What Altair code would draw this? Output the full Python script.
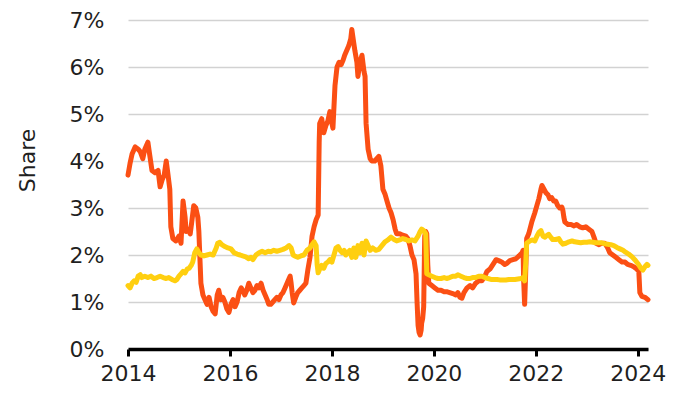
import altair as alt
import pandas as pd

# Decimal-year time points and shares (%)
orange_year = [
    2014.00, 2014.04, 2014.08, 2014.14, 2014.20, 2014.24, 2014.29, 2014.33, 2014.39, 2014.43,
    2014.47, 2014.53, 2014.59, 2014.63, 2014.67, 2014.71, 2014.75, 2014.78, 2014.82, 2014.84,
    2014.88, 2014.94, 2015.00, 2015.04, 2015.08, 2015.12, 2015.14, 2015.18, 2015.22, 2015.25,
    2015.29, 2015.33, 2015.37, 2015.39, 2015.43, 2015.47, 2015.51, 2015.55, 2015.59, 2015.63,
    2015.67, 2015.71, 2015.75, 2015.78, 2015.82, 2015.86, 2015.90, 2015.94, 2015.98, 2016.02,
    2016.06, 2016.10, 2016.14, 2016.18, 2016.22, 2016.25, 2016.29, 2016.33, 2016.37, 2016.41,
    2016.45, 2016.49, 2016.53, 2016.57, 2016.61, 2016.65, 2016.69, 2016.73, 2016.76, 2016.80,
    2016.84, 2016.88, 2016.92, 2016.96, 2017.00, 2017.04, 2017.08, 2017.12, 2017.16, 2017.18,
    2017.20, 2017.22, 2017.25, 2017.29, 2017.33, 2017.37, 2017.41, 2017.45, 2017.49, 2017.53,
    2017.57, 2017.61, 2017.65, 2017.69, 2017.73, 2017.75, 2017.76, 2017.80, 2017.84, 2017.88,
    2017.92, 2017.96, 2018.00, 2018.02, 2018.06, 2018.10, 2018.14, 2018.18, 2018.22, 2018.25,
    2018.29, 2018.33, 2018.37, 2018.39, 2018.43, 2018.45, 2018.49, 2018.51, 2018.55, 2018.59,
    2018.63, 2018.65, 2018.67, 2018.71, 2018.75, 2018.78, 2018.84, 2018.88, 2018.92, 2018.96,
    2019.00, 2019.04, 2019.08, 2019.12, 2019.16, 2019.20, 2019.24, 2019.27, 2019.33, 2019.39,
    2019.45, 2019.49, 2019.53, 2019.57, 2019.61, 2019.65, 2019.67, 2019.69, 2019.71, 2019.73,
    2019.75, 2019.76, 2019.78, 2019.80, 2019.82, 2019.84, 2019.86, 2019.88, 2019.90, 2019.96,
    2020.02, 2020.08, 2020.14, 2020.20, 2020.25, 2020.31, 2020.37, 2020.43, 2020.47, 2020.51,
    2020.55, 2020.59, 2020.65, 2020.71, 2020.76, 2020.82, 2020.88, 2020.94, 2021.00, 2021.04,
    2021.10, 2021.16, 2021.22, 2021.27, 2021.33, 2021.39, 2021.43, 2021.49, 2021.55, 2021.61,
    2021.67, 2021.73, 2021.75, 2021.76, 2021.78, 2021.80, 2021.82, 2021.86, 2021.92, 2021.98,
    2022.02, 2022.06, 2022.10, 2022.12, 2022.16, 2022.20, 2022.24, 2022.27, 2022.31, 2022.35,
    2022.39, 2022.43, 2022.47, 2022.51, 2022.53, 2022.55, 2022.57, 2022.63, 2022.69, 2022.75,
    2022.80, 2022.86, 2022.92, 2022.98, 2023.04, 2023.10, 2023.14, 2023.18, 2023.24, 2023.29,
    2023.35, 2023.41, 2023.45, 2023.51, 2023.57, 2023.63, 2023.69, 2023.75, 2023.80, 2023.86,
    2023.92, 2023.98, 2024.02, 2024.04, 2024.08, 2024.14, 2024.20,
]
orange_share = [
    3.70, 3.95, 4.15, 4.30, 4.25, 4.20, 4.05, 4.25, 4.40, 4.10,
    3.80, 3.75, 3.80, 3.45, 3.60, 3.70, 4.00, 3.75, 3.40, 2.60,
    2.35, 2.30, 2.40, 2.25, 3.15, 2.80, 2.50, 2.55, 2.45, 2.70,
    3.05, 3.00, 2.80, 2.50, 1.40, 1.15, 1.05, 0.95, 1.10, 0.90,
    0.80, 0.75, 1.15, 1.25, 1.05, 1.10, 1.00, 0.85, 0.78, 0.95,
    1.05, 0.90, 1.00, 1.20, 1.30, 1.25, 1.15, 1.25, 1.40, 1.30,
    1.20, 1.25, 1.35, 1.30, 1.40, 1.25, 1.15, 1.05, 0.95, 0.95,
    1.00, 1.05, 1.10, 1.05, 1.15, 1.20, 1.30, 1.40, 1.50, 1.55,
    1.40, 1.20, 0.98, 1.10, 1.20, 1.25, 1.30, 1.35, 1.40, 1.70,
    1.95, 2.40, 2.60, 2.75, 2.85, 4.40, 4.80, 4.90, 4.60, 4.75,
    4.85, 5.05, 4.80, 4.70, 5.60, 6.00, 6.10, 6.05, 6.15, 6.25,
    6.35, 6.45, 6.60, 6.80, 6.50, 6.35, 6.10, 5.80, 6.10, 6.25,
    5.90, 5.80, 4.80, 4.25, 4.05, 4.00, 4.00, 4.05, 4.10, 3.90,
    3.40, 3.30, 3.15, 3.00, 2.90, 2.75, 2.55, 2.45, 2.45, 2.42,
    2.40, 2.35, 2.20, 2.00, 1.90, 1.60, 1.00, 0.50, 0.35, 0.30,
    0.40, 0.55, 0.65, 0.90, 2.40, 2.50, 2.45, 1.80, 1.40, 1.35,
    1.30, 1.25, 1.25, 1.22, 1.22, 1.20, 1.18, 1.15, 1.20, 1.10,
    1.08, 1.20, 1.30, 1.35, 1.30, 1.40, 1.45, 1.45, 1.55, 1.65,
    1.70, 1.80, 1.90, 1.88, 1.85, 1.80, 1.82, 1.88, 1.90, 1.92,
    1.98, 2.05, 2.10, 1.50, 0.95, 1.60, 2.35, 2.45, 2.70, 2.90,
    3.05, 3.20, 3.40, 3.48, 3.40, 3.32, 3.28, 3.20, 3.22, 3.15,
    3.15, 3.05, 3.00, 3.02, 2.95, 2.80, 2.70, 2.65, 2.65, 2.62,
    2.65, 2.60, 2.58, 2.60, 2.55, 2.50, 2.38, 2.25, 2.22, 2.25,
    2.25, 2.15, 2.05, 2.00, 1.95, 1.90, 1.85, 1.85, 1.80, 1.78,
    1.75, 1.70, 1.65, 1.20, 1.12, 1.10, 1.05,
]

yellow_year = [
    2014.00, 2014.04, 2014.08, 2014.12, 2014.16, 2014.20, 2014.24, 2014.27, 2014.33, 2014.39,
    2014.45, 2014.51, 2014.57, 2014.63, 2014.69, 2014.75, 2014.80, 2014.86, 2014.92, 2014.96,
    2015.00, 2015.04, 2015.08, 2015.12, 2015.16, 2015.20, 2015.24, 2015.27, 2015.31, 2015.35,
    2015.39, 2015.43, 2015.49, 2015.55, 2015.61, 2015.67, 2015.73, 2015.76, 2015.80, 2015.84,
    2015.90, 2015.96, 2016.02, 2016.08, 2016.14, 2016.20, 2016.25, 2016.31, 2016.37, 2016.41,
    2016.45, 2016.51, 2016.57, 2016.63, 2016.69, 2016.75, 2016.80, 2016.86, 2016.92, 2016.98,
    2017.04, 2017.10, 2017.16, 2017.20, 2017.24, 2017.27, 2017.33, 2017.39, 2017.45, 2017.51,
    2017.57, 2017.61, 2017.65, 2017.69, 2017.71, 2017.73, 2017.76, 2017.80, 2017.84, 2017.88,
    2017.92, 2017.96, 2018.00, 2018.04, 2018.08, 2018.12, 2018.16, 2018.20, 2018.24, 2018.27,
    2018.31, 2018.35, 2018.39, 2018.43, 2018.47, 2018.51, 2018.55, 2018.59, 2018.63, 2018.67,
    2018.71, 2018.75, 2018.80, 2018.86, 2018.92, 2018.98, 2019.04, 2019.10, 2019.16, 2019.22,
    2019.27, 2019.33, 2019.39, 2019.45, 2019.51, 2019.57, 2019.63, 2019.69, 2019.73, 2019.76,
    2019.80, 2019.84, 2019.86, 2019.90, 2019.96, 2020.02, 2020.08, 2020.14, 2020.20, 2020.25,
    2020.31, 2020.37, 2020.43, 2020.47, 2020.53, 2020.59, 2020.65, 2020.71, 2020.76, 2020.82,
    2020.88, 2020.94, 2021.00, 2021.06, 2021.12, 2021.18, 2021.24, 2021.29, 2021.35, 2021.41,
    2021.47, 2021.53, 2021.59, 2021.65, 2021.71, 2021.75, 2021.78, 2021.80, 2021.82, 2021.88,
    2021.94, 2021.98, 2022.02, 2022.06, 2022.10, 2022.14, 2022.18, 2022.22, 2022.25, 2022.29,
    2022.33, 2022.39, 2022.45, 2022.49, 2022.53, 2022.59, 2022.65, 2022.71, 2022.76, 2022.82,
    2022.88, 2022.94, 2023.00, 2023.06, 2023.12, 2023.18, 2023.24, 2023.29, 2023.35, 2023.41,
    2023.47, 2023.53, 2023.59, 2023.65, 2023.71, 2023.76, 2023.82, 2023.88, 2023.94, 2024.00,
    2024.06, 2024.10, 2024.14, 2024.18, 2024.20,
]
yellow_share = [
    1.35, 1.30, 1.40, 1.45, 1.42, 1.55, 1.58, 1.52, 1.55, 1.52,
    1.55, 1.50, 1.52, 1.55, 1.52, 1.50, 1.52, 1.48, 1.45, 1.48,
    1.55, 1.60, 1.65, 1.62, 1.70, 1.72, 1.78, 1.85, 2.05, 2.13,
    2.05, 2.00, 1.98, 2.00, 2.02, 2.00, 2.15, 2.25, 2.27, 2.22,
    2.18, 2.15, 2.13, 2.05, 2.02, 2.00, 1.98, 1.96, 1.92, 1.95,
    1.90, 2.00, 2.05, 2.08, 2.05, 2.08, 2.07, 2.10, 2.08, 2.10,
    2.12, 2.15, 2.20, 2.15, 2.00, 1.98, 1.95, 1.98, 2.00, 2.10,
    2.15, 2.22, 2.28, 2.20, 1.80, 1.62, 1.70, 1.78, 1.72, 1.82,
    1.85, 1.90, 1.85, 2.00, 2.15, 2.18, 2.10, 2.05, 2.10, 2.00,
    2.05, 2.10, 1.95, 2.15, 1.95, 2.20, 2.05, 2.25, 2.00, 2.30,
    2.20, 2.10, 2.15, 2.10, 2.12, 2.20, 2.28, 2.32, 2.38, 2.33,
    2.30, 2.32, 2.35, 2.33, 2.30, 2.32, 2.30, 2.40, 2.50, 2.55,
    2.52, 2.45, 1.60, 1.58, 1.55, 1.52, 1.50, 1.50, 1.52, 1.50,
    1.52, 1.55, 1.55, 1.58, 1.55, 1.52, 1.50, 1.50, 1.52, 1.52,
    1.55, 1.55, 1.52, 1.50, 1.48, 1.48, 1.48, 1.47, 1.47, 1.47,
    1.48, 1.48, 1.48, 1.49, 1.50, 1.52, 1.45, 1.80, 2.25, 2.30,
    2.32, 2.30, 2.40, 2.48, 2.52, 2.40, 2.38, 2.42, 2.44, 2.38,
    2.33, 2.33, 2.35, 2.28, 2.23, 2.25, 2.28, 2.30, 2.28, 2.27,
    2.26, 2.27, 2.27, 2.28, 2.27, 2.26, 2.26, 2.26, 2.24, 2.23,
    2.22, 2.20, 2.16, 2.13, 2.10, 2.06, 2.02, 1.97, 1.90, 1.82,
    1.72, 1.68, 1.75, 1.80, 1.78,
]

year_ticks = [2014, 2016, 2018, 2020, 2022, 2024]
share_ticks = [0, 1, 2, 3, 4, 5, 6, 7]

orange_df = pd.DataFrame({"year": orange_year, "share": orange_share})
yellow_df = pd.DataFrame({"year": yellow_year, "share": yellow_share})

FONT = "DejaVu Sans"
TXT = "#1f1f1f"

x_enc = alt.X(
    "year:Q",
    scale=alt.Scale(domain=[2014, 2024.2], nice=False, zero=False),
    axis=alt.Axis(
        values=year_ticks, format="d", title=None, grid=False,
        domainColor="black", domainWidth=3.5, tickColor="black", tickWidth=3,
        tickSize=7, labelFont=FONT, labelFontSize=22, labelColor=TXT,
        labelBaseline="alphabetic", labelPadding=24, labelFlush=False,
    ),
)
y_enc = alt.Y(
    "share:Q",
    scale=alt.Scale(domain=[0, 7], nice=False),
    axis=alt.Axis(
        values=share_ticks, labelExpr="datum.value + '%'", title="Share",
        domain=False, ticks=False, grid=True, gridColor="#d2d2d2", gridWidth=1.6,
        labelFont=FONT, labelFontSize=22, labelColor=TXT, labelPadding=24,
        titleFont=FONT, titleFontSize=22, titleFontWeight="normal", titleColor=TXT,
        titleX=-101, titleY=140, titleAngle=-90, titleAlign="center", titleBaseline="middle",
    ),
)

orange_line = alt.Chart(orange_df).mark_line(
    color="#FB4F14", strokeWidth=5, strokeJoin="round", strokeCap="round"
).encode(x=x_enc, y=y_enc)

yellow_line = alt.Chart(yellow_df).mark_line(
    color="#FFCF0F", strokeWidth=5, strokeJoin="round", strokeCap="round"
).encode(x=x_enc, y=y_enc)

chart = alt.layer(orange_line, yellow_line).properties(
    width=520,
    height=329,
    autosize=alt.AutoSizeParams(type="none"),
    padding={"left": 120, "top": 12, "right": 44, "bottom": 37},
    background="white",
).configure_view(stroke=None)

chart.save("out.html", embed_options={"renderer": "svg", "actions": False})
